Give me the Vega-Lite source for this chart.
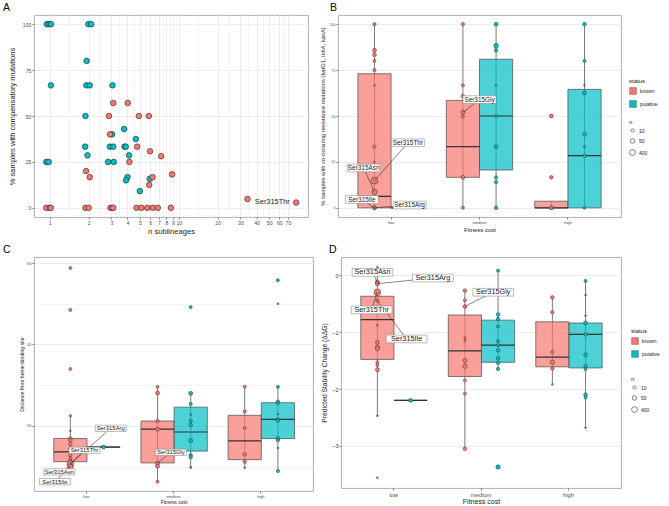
{
"$schema": "https://vega.github.io/schema/vega-lite/v6.json",
"padding": {"left": 2, "top": 2, "right": 2, "bottom": 0},
"background": "white",
"config": {
  "font": "Liberation Sans",
  "view": {"stroke": "#a6a6a6", "strokeWidth": 0.9},
  "axis": {"domain": false, "gridColor": "#ebebeb", "tickColor": "#4d4d4d", "tickWidth": 0.7, "tickSize": 2, "labelColor": "#4d4d4d", "titleColor": "#1a1a1a", "titleFontWeight": "normal", "labelPadding": 1},
  "axisX": {"labelAngle": 0},
  "title": {"fontWeight": "normal", "fontSize": 10.5, "anchor": "start", "frame": "group", "color": "#000000", "offset": 2},
  "legend": {"titleFontWeight": "normal", "titleFontSize": 6, "labelFontSize": 5, "titleColor": "#1a1a1a", "labelColor": "#1a1a1a", "titlePadding": 3, "rowPadding": 3, "labelOffset": 3}
},
"datasets": {
  "Apts": [
    {"status":"putative","ns":0.95,"pct":100},{"status":"putative","ns":0.99,"pct":100},{"status":"putative","ns":1.02,"pct":100},
    {"status":"putative","ns":1.99,"pct":100},{"status":"putative","ns":2.09,"pct":100},{"status":"putative","ns":1.93,"pct":80},
    {"status":"putative","ns":1.02,"pct":66.7},{"status":"putative","ns":1.92,"pct":66.7},{"status":"putative","ns":2.04,"pct":66.7},
    {"status":"putative","ns":3.06,"pct":66.7},{"status":"putative","ns":1.89,"pct":50},{"status":"putative","ns":3.77,"pct":42.9},
    {"status":"putative","ns":4.64,"pct":37.5},{"status":"putative","ns":1.88,"pct":33.3},{"status":"putative","ns":2.92,"pct":33.3},
    {"status":"putative","ns":3.1,"pct":33.3},{"status":"putative","ns":3.8,"pct":33.3},{"status":"putative","ns":3.88,"pct":33.3},
    {"status":"putative","ns":1.96,"pct":28.6},{"status":"putative","ns":4.12,"pct":28.6},{"status":"putative","ns":0.94,"pct":25},
    {"status":"putative","ns":0.98,"pct":25},{"status":"putative","ns":2.83,"pct":25},{"status":"putative","ns":3.13,"pct":25},
    {"status":"putative","ns":4.0,"pct":16.7},{"status":"putative","ns":3.9,"pct":15},{"status":"putative","ns":5.95,"pct":15.8},
    {"status":"putative","ns":4.98,"pct":9.1},{"status":"putative","ns":3.04,"pct":40},
    {"status":"known","ns":0.94,"pct":0},{"status":"known","ns":1.0,"pct":0},{"status":"known","ns":1.02,"pct":0},
    {"status":"known","ns":1.89,"pct":0},{"status":"known","ns":2.0,"pct":0},{"status":"known","ns":2.95,"pct":0},
    {"status":"known","ns":3.07,"pct":0},{"status":"known","ns":3.1,"pct":0},{"status":"known","ns":4.7,"pct":0},
    {"status":"known","ns":5.13,"pct":0},{"status":"known","ns":5.7,"pct":0},{"status":"known","ns":6.28,"pct":0},
    {"status":"known","ns":6.87,"pct":0},{"status":"known","ns":8.67,"pct":0},
    {"status":"known","ns":3.1,"pct":57.1},{"status":"known","ns":4.02,"pct":57.1},{"status":"known","ns":2.87,"pct":50},
    {"status":"known","ns":4.9,"pct":50},{"status":"known","ns":5.85,"pct":50},{"status":"known","ns":2.93,"pct":40},
    {"status":"known","ns":4.75,"pct":33.3},{"status":"known","ns":5.98,"pct":30.8},{"status":"known","ns":7.29,"pct":28.1},
    {"status":"known","ns":4.14,"pct":25},{"status":"known","ns":1.91,"pct":20},{"status":"known","ns":2.04,"pct":16.7},
    {"status":"known","ns":6.25,"pct":16.7},{"status":"known","ns":5.89,"pct":12.5},{"status":"known","ns":8.87,"pct":18.2},
    {"status":"known","ns":34,"pct":4.8},{"status":"known","ns":81,"pct":2.9}
  ],
  "Alab": [{"label":"Ser315Thr","lx":52.9,"ly":3.1}],
  "Bbox": [
    {"cost":"low","status":"known","lower":0,"q1":0,"median":6.2,"q3":73,"upper":100},
    {"cost":"low","status":"putative","lower":0,"q1":0,"median":0,"q3":0,"upper":0},
    {"cost":"medium","status":"known","lower":0,"q1":16.6,"median":33.3,"q3":58.5,"upper":100},
    {"cost":"medium","status":"putative","lower":0,"q1":20.6,"median":50,"q3":80.9,"upper":100},
    {"cost":"high","status":"known","lower":0,"q1":0,"median":0,"q3":3.6,"upper":3.6},
    {"cost":"high","status":"putative","lower":0,"q1":0,"median":28.4,"q3":64.5,"upper":100}
  ],
  "Bpts": [
    {"cost":"low","status":"known","v":100,"n":10},{"cost":"low","status":"known","v":85.8,"n":20},{"cost":"low","status":"known","v":83.4,"n":20},
    {"cost":"low","status":"known","v":80,"n":8},{"cost":"low","status":"known","v":75,"n":10},{"cost":"low","status":"known","v":66.7,"n":3},
    {"cost":"low","status":"known","v":33.3,"n":10},{"cost":"low","status":"known","v":25,"n":3},{"cost":"low","status":"known","v":14.8,"n":3000},
    {"cost":"low","status":"known","v":8.7,"n":200},{"cost":"low","status":"known","v":0,"n":20},{"cost":"low","status":"known","v":0,"n":15},
    {"cost":"low","status":"putative","v":0,"n":3},
    {"cost":"medium","status":"known","v":100,"n":10},{"cost":"medium","status":"known","v":66.7,"n":8},{"cost":"medium","status":"known","v":60.8,"n":15},
    {"cost":"medium","status":"known","v":52,"n":30},{"cost":"medium","status":"known","v":49.7,"n":8},{"cost":"medium","status":"known","v":16.6,"n":20},
    {"cost":"medium","status":"known","v":0,"n":8},
    {"cost":"medium","status":"putative","v":100,"n":20},{"cost":"medium","status":"putative","v":88.3,"n":60},{"cost":"medium","status":"putative","v":85.8,"n":15},
    {"cost":"medium","status":"putative","v":66.7,"n":3},{"cost":"medium","status":"putative","v":50,"n":8},{"cost":"medium","status":"putative","v":33.3,"n":20},
    {"cost":"medium","status":"putative","v":16.6,"n":10},{"cost":"medium","status":"putative","v":14,"n":10},{"cost":"medium","status":"putative","v":0,"n":15},
    {"cost":"high","status":"known","v":50,"n":20},{"cost":"high","status":"known","v":16.6,"n":15},{"cost":"high","status":"known","v":0,"n":20},
    {"cost":"high","status":"known","v":0,"n":15},
    {"cost":"high","status":"putative","v":100,"n":15},{"cost":"high","status":"putative","v":80,"n":8},{"cost":"high","status":"putative","v":66.7,"n":3},
    {"cost":"high","status":"putative","v":62.5,"n":20},{"cost":"high","status":"putative","v":40,"n":15},{"cost":"high","status":"putative","v":33.3,"n":4},
    {"cost":"high","status":"putative","v":28.4,"n":15},{"cost":"high","status":"putative","v":0,"n":8}
  ],
  "Blab": [
    {"label":"Ser315Thr","lx":1.19,"ly":35.4,"px":0.8125,"py":14.8},
    {"label":"Ser315Asn","lx":0.69,"ly":21.7,"px":0.8125,"py":8.7},
    {"label":"Ser315Ile","lx":0.67,"ly":4.5,"px":0.8125,"py":0},
    {"label":"Ser315Arg","lx":1.21,"ly":1.5,"px":0.8125,"py":0},
    {"label":"Ser315Gly","lx":2.0,"ly":58.9,"px":1.8125,"py":52}
  ],
  "Cbox": [
    {"cost":"low","status":"known","lower":9.9,"q1":11.2,"median":13.6,"q3":16.9,"upper":22.5},
    {"cost":"low","status":"putative","lower":14.8,"q1":14.8,"median":14.8,"q3":14.8,"upper":14.8},
    {"cost":"medium","status":"known","lower":6.3,"q1":10.9,"median":19.2,"q3":21.2,"upper":29.6},
    {"cost":"medium","status":"putative","lower":9.8,"q1":13.8,"median":18.5,"q3":24.6,"upper":28},
    {"cost":"high","status":"known","lower":9.7,"q1":11.7,"median":16.3,"q3":22.6,"upper":29.6},
    {"cost":"high","status":"putative","lower":8.9,"q1":16.9,"median":21.6,"q3":25.7,"upper":29.6}
  ],
  "Cpts": [
    {"cost":"low","status":"known","v":58.8,"n":8},{"cost":"low","status":"known","v":48.5,"n":8},{"cost":"low","status":"known","v":34,"n":8},
    {"cost":"low","status":"known","v":22.5,"n":5},{"cost":"low","status":"known","v":18.8,"n":3},{"cost":"low","status":"known","v":16.9,"n":15},
    {"cost":"low","status":"known","v":16.5,"n":15},{"cost":"low","status":"known","v":15.5,"n":15},{"cost":"low","status":"known","v":14.4,"n":10},
    {"cost":"low","status":"known","v":12.8,"n":10},{"cost":"low","status":"known","v":12,"n":10},{"cost":"low","status":"known","v":11.4,"n":10},
    {"cost":"low","status":"known","v":10.6,"n":3000},{"cost":"low","status":"known","v":9.9,"n":200},
    {"cost":"low","status":"putative","v":14.8,"n":20},
    {"cost":"medium","status":"known","v":29.6,"n":8},{"cost":"medium","status":"known","v":28.1,"n":25},{"cost":"medium","status":"known","v":21.2,"n":10},
    {"cost":"medium","status":"known","v":19.2,"n":25},{"cost":"medium","status":"known","v":10.8,"n":25},{"cost":"medium","status":"known","v":10.1,"n":25},
    {"cost":"medium","status":"known","v":6.3,"n":8},
    {"cost":"medium","status":"putative","v":49.2,"n":8},{"cost":"medium","status":"putative","v":28,"n":25},{"cost":"medium","status":"putative","v":25.4,"n":10},
    {"cost":"medium","status":"putative","v":22.8,"n":3},{"cost":"medium","status":"putative","v":21.2,"n":12},{"cost":"medium","status":"putative","v":20.2,"n":12},
    {"cost":"medium","status":"putative","v":16.4,"n":25},{"cost":"medium","status":"putative","v":12.8,"n":12},{"cost":"medium","status":"putative","v":12.3,"n":12},
    {"cost":"medium","status":"putative","v":9.8,"n":4},
    {"cost":"high","status":"known","v":29.6,"n":8},{"cost":"high","status":"known","v":23.6,"n":8},{"cost":"high","status":"known","v":19.5,"n":6},
    {"cost":"high","status":"known","v":13,"n":15},{"cost":"high","status":"known","v":11.2,"n":15},{"cost":"high","status":"known","v":9.7,"n":3},
    {"cost":"high","status":"putative","v":55.8,"n":8},{"cost":"high","status":"putative","v":50,"n":3},{"cost":"high","status":"putative","v":29.6,"n":8},
    {"cost":"high","status":"putative","v":25.9,"n":20},{"cost":"high","status":"putative","v":25.6,"n":10},{"cost":"high","status":"putative","v":22.9,"n":3},
    {"cost":"high","status":"putative","v":21.5,"n":20},{"cost":"high","status":"putative","v":21.3,"n":10},{"cost":"high","status":"putative","v":16.9,"n":20},
    {"cost":"high","status":"putative","v":16.5,"n":10},{"cost":"high","status":"putative","v":14.6,"n":3},{"cost":"high","status":"putative","v":8.9,"n":10}
  ],
  "Clab": [
    {"label":"Ser315Arg","lx":1.28,"ly":19.4,"px":0.8125,"py":10.6},
    {"label":"Ser315Thr","lx":0.98,"ly":14.0,"px":0.8125,"py":10.6},
    {"label":"Ser315Asn","lx":0.69,"ly":8.7,"px":0.8125,"py":9.9},
    {"label":"Ser315Ile","lx":0.64,"ly":6.3,"px":0.8125,"py":9.9},
    {"label":"Ser315Gly","lx":1.97,"ly":13.5,"px":1.8125,"py":10.8}
  ],
  "Dbox": [
    {"cost":"low","status":"known","lower":-2.48,"q1":-1.48,"median":-0.78,"q3":-0.37,"upper":0.14},
    {"cost":"low","status":"putative","lower":-2.2,"q1":-2.2,"median":-2.2,"q3":-2.2,"upper":-2.2},
    {"cost":"medium","status":"known","lower":-3.05,"q1":-1.78,"median":-1.33,"q3":-0.70,"upper":-0.27},
    {"cost":"medium","status":"putative","lower":-1.65,"q1":-1.53,"median":-1.23,"q3":-0.79,"upper":0.08},
    {"cost":"high","status":"known","lower":-1.92,"q1":-1.61,"median":-1.44,"q3":-0.82,"upper":-0.39},
    {"cost":"high","status":"putative","lower":-2.68,"q1":-1.63,"median":-1.04,"q3":-0.84,"upper":-0.10}
  ],
  "Dpts": [
    {"cost":"low","status":"known","v":0.14,"n":3},{"cost":"low","status":"known","v":-0.12,"n":30},{"cost":"low","status":"known","v":-0.15,"n":30},
    {"cost":"low","status":"known","v":-0.30,"n":3000},{"cost":"low","status":"known","v":-0.44,"n":10},{"cost":"low","status":"known","v":-0.88,"n":3},
    {"cost":"low","status":"known","v":-1.18,"n":20},{"cost":"low","status":"known","v":-1.26,"n":30},{"cost":"low","status":"known","v":-1.29,"n":30},
    {"cost":"low","status":"known","v":-1.53,"n":8},{"cost":"low","status":"known","v":-1.58,"n":8},{"cost":"low","status":"known","v":-1.66,"n":25},
    {"cost":"low","status":"known","v":-2.47,"n":3},{"cost":"low","status":"known","v":-3.56,"n":3},
    {"cost":"low","status":"putative","v":-2.2,"n":20},
    {"cost":"medium","status":"known","v":-0.27,"n":15},{"cost":"medium","status":"known","v":-0.44,"n":8},{"cost":"medium","status":"known","v":-0.55,"n":20},
    {"cost":"medium","status":"known","v":-1.10,"n":4},{"cost":"medium","status":"known","v":-1.15,"n":4},{"cost":"medium","status":"known","v":-1.50,"n":25},
    {"cost":"medium","status":"known","v":-1.60,"n":40},{"cost":"medium","status":"known","v":-1.85,"n":8},{"cost":"medium","status":"known","v":-2.08,"n":8},
    {"cost":"medium","status":"known","v":-3.05,"n":15},
    {"cost":"medium","status":"putative","v":0.08,"n":8},{"cost":"medium","status":"putative","v":-0.69,"n":15},{"cost":"medium","status":"putative","v":-0.77,"n":12},
    {"cost":"medium","status":"putative","v":-0.90,"n":8},{"cost":"medium","status":"putative","v":-1.16,"n":8},{"cost":"medium","status":"putative","v":-1.23,"n":8},
    {"cost":"medium","status":"putative","v":-1.32,"n":15},{"cost":"medium","status":"putative","v":-1.46,"n":15},{"cost":"medium","status":"putative","v":-1.54,"n":15},
    {"cost":"medium","status":"putative","v":-1.65,"n":12},{"cost":"medium","status":"putative","v":-3.37,"n":40},
    {"cost":"high","status":"known","v":-0.39,"n":15},{"cost":"high","status":"known","v":-0.65,"n":10},{"cost":"high","status":"known","v":-1.35,"n":8},
    {"cost":"high","status":"known","v":-1.53,"n":40},{"cost":"high","status":"known","v":-1.64,"n":12},{"cost":"high","status":"known","v":-1.92,"n":3},
    {"cost":"high","status":"putative","v":-0.10,"n":8},{"cost":"high","status":"putative","v":-0.35,"n":3},{"cost":"high","status":"putative","v":-0.71,"n":3},
    {"cost":"high","status":"putative","v":-0.84,"n":20},{"cost":"high","status":"putative","v":-1.04,"n":15},{"cost":"high","status":"putative","v":-1.40,"n":20},
    {"cost":"high","status":"putative","v":-1.60,"n":15},{"cost":"high","status":"putative","v":-1.65,"n":8},{"cost":"high","status":"putative","v":-2.10,"n":20},
    {"cost":"high","status":"putative","v":-2.15,"n":8},{"cost":"high","status":"putative","v":-2.68,"n":3}
  ],
  "Dlab": [
    {"label":"Ser315Asn","lx":0.76,"ly":0.05,"px":0.8125,"py":-0.12},
    {"label":"Ser315Arg","lx":1.45,"ly":-0.05,"px":0.8125,"py":-0.15},
    {"label":"Ser315Thr","lx":0.75,"ly":-0.61,"px":0.8125,"py":-0.30},
    {"label":"Ser315Ile","lx":1.15,"ly":-1.12,"px":0.8125,"py":-0.44},
    {"label":"Ser315Gly","lx":2.14,"ly":-0.30,"px":1.8125,"py":-0.55}
  ]
},
"resolve": {"scale": {"fill": "independent", "size": "independent"}, "legend": {"fill": "independent", "size": "independent"}},
"spacing": 8,
"vconcat": [
 {
  "spacing": 10,
  "resolve": {"scale": {"fill": "independent", "size": "independent"}, "legend": {"fill": "independent", "size": "independent"}},
  "hconcat": [
   {
    "width": 274, "height": 202,
    "title": {"text": "A", "dx": -31},
    "layer": [
     {"data": {"name": "Apts"},
      "mark": {"type": "point", "filled": true, "opacity": 1, "size": 32, "stroke": "#262626", "strokeWidth": 0.6},
      "encoding": {
        "x": {"field": "ns", "type": "quantitative", "scale": {"type": "log", "domain": [0.755, 100], "nice": false},
              "axis": {"title": "n sublineages", "values": [1,1.41,2,2.45,3,3.46,4,4.47,5,5.48,6,6.48,7,7.48,8,8.49,9,9.49,10,14.1,20,24.5,30,34.6,40,44.7,50,54.8,60,64.8,70],
                       "labelExpr": "datum.value % 1 == 0 ? ('' + datum.value) : ''",
                       "tickOpacity": {"condition": {"test": "datum.value % 1 != 0", "value": 0}, "value": 1},
                       "gridWidth": {"condition": {"test": "datum.value % 1 != 0", "value": 0.5}, "value": 0.9},
                       "labelFontSize": 5.2, "titleFontSize": 7.6, "titlePadding": 2}},
        "y": {"field": "pct", "type": "quantitative", "scale": {"domain": [-5, 105], "nice": false, "zero": false},
              "axis": {"title": "% samples with compensatory mutations", "values": [0,12.5,25,37.5,50,62.5,75,87.5,100],
                       "labelExpr": "datum.value % 25 == 0 ? datum.label : ''",
                       "tickOpacity": {"condition": {"test": "datum.value % 25 != 0", "value": 0}, "value": 1},
                       "gridWidth": {"condition": {"test": "datum.value % 25 != 0", "value": 0.5}, "value": 0.9},
                       "labelFontSize": 5.2, "titleFontSize": 7.6, "titlePadding": 5.5}},
        "fill": {"field": "status", "type": "nominal", "scale": {"domain": ["known","putative"], "range": ["#F8766D","#00BFC4"]}, "legend": null}
      }},
     {"data": {"name": "Alab"},
      "mark": {"type": "text", "fontSize": 7.4, "color": "#1a1a1a"},
      "encoding": {
        "x": {"field": "lx", "type": "quantitative", "scale": {"type": "log", "domain": [0.755, 100], "nice": false}},
        "y": {"field": "ly", "type": "quantitative", "scale": {"domain": [-5, 105], "nice": false, "zero": false}},
        "text": {"field": "label"}
      }}
    ]
   },
   {
    "width": 283, "height": 202,
    "title": {"text": "B", "dx": -8},
    "resolve": {"scale": {"x": "independent"}},
    "layer": [
     {
      "encoding": {
        "x": {"field": "cost", "type": "nominal", "scale": {"domain": ["low","medium","high"], "paddingInner": 0, "paddingOuter": 0.1},
              "axis": {"title": "Fitness cost", "labelFontSize": 4, "titleFontSize": 6, "titlePadding": 2.3}},
        "xOffset": {"field": "status", "type": "nominal", "scale": {"domain": ["known","putative"], "paddingInner": 0, "paddingOuter": 0.333}}
      },
      "layer": [
       {"data": {"name": "Bbox"}, "mark": {"type": "rule", "stroke": "#595959", "strokeWidth": 0.8},
        "encoding": {"y": {"field": "lower", "type": "quantitative", "scale": {"domain": [-5, 105], "nice": false, "zero": false},
                           "axis": {"title": "% samples with co-occuring resistance mutations (katG1, inhA, kasA)", "values": [0,12.5,25,37.5,50,62.5,75,87.5,100],
                                    "labelExpr": "datum.value % 25 == 0 ? datum.label : ''",
                                    "tickOpacity": {"condition": {"test": "datum.value % 25 != 0", "value": 0}, "value": 1},
                                    "gridWidth": {"condition": {"test": "datum.value % 25 != 0", "value": 0.5}, "value": 0.9},
                                    "labelFontSize": 3.5, "titleFontSize": 5.8, "titlePadding": 3.4}},
                     "y2": {"field": "upper"}}},
       {"data": {"name": "Bbox"}, "mark": {"type": "bar", "fillOpacity": 0.7, "stroke": "#595959", "strokeWidth": 0.8},
        "encoding": {"y": {"field": "q1", "type": "quantitative"}, "y2": {"field": "q3"},
                     "fill": {"field": "status", "type": "nominal", "scale": {"domain": ["known","putative"], "range": ["#F8766D","#00BFC4"]},
                              "legend": {"orient": "none", "legendX": 291, "legendY": 63, "title": "status", "symbolType": "square", "symbolSize": 45, "symbolStrokeColor": "#555555", "symbolStrokeWidth": 0.5}}}},
       {"data": {"name": "Bbox"}, "mark": {"type": "bar", "fillOpacity": 0, "stroke": "#333333", "strokeWidth": 1.2},
        "encoding": {"y": {"field": "median", "type": "quantitative"}, "y2": {"field": "median"}}},
       {"data": {"name": "Bpts"}, "mark": {"type": "point", "filled": true, "opacity": 1, "stroke": "#333333", "strokeWidth": 0.5},
        "encoding": {"y": {"field": "v", "type": "quantitative"},
                     "fill": {"field": "status", "type": "nominal", "scale": {"domain": ["known","putative"], "range": ["#F8766D","#00BFC4"]},
                              "legend": {"orient": "none", "legendX": 291, "legendY": 63, "title": "status", "symbolType": "square", "symbolSize": 45, "symbolStrokeColor": "#555555", "symbolStrokeWidth": 0.5}},
                     "size": {"field": "n", "type": "quantitative", "scale": {"type": "log", "domain": [2, 2000], "range": [1, 43]},
                              "legend": {"orient": "none", "legendX": 291, "legendY": 104, "title": "n", "values": [10, 50, 400], "symbolType": "circle", "symbolFillColor": "white", "symbolStrokeColor": "#333333", "symbolStrokeWidth": 0.6}}}}
      ]
     },
     {
      "data": {"name": "Blab"},
      "encoding": {
        "x": {"field": "lx", "type": "quantitative", "scale": {"domain": [0.4, 3.6], "nice": false, "zero": false}, "axis": null},
        "y": {"field": "ly", "type": "quantitative", "scale": {"domain": [-5, 105], "nice": false, "zero": false}}
      },
      "layer": [
       {"mark": {"type": "rule", "stroke": "#333333", "strokeWidth": 0.6},
        "encoding": {"x": {"field": "px", "type": "quantitative", "scale": {"domain": [0.4, 3.6], "nice": false, "zero": false}, "axis": null}, "x2": {"field": "lx"},
                     "y": {"field": "py", "type": "quantitative", "scale": {"domain": [-5, 105], "nice": false, "zero": false}}, "y2": {"field": "ly"}}},
       {"mark": {"type": "point", "shape": "M-1,-0.233H1V0.233H-1Z", "size": 1089, "filled": true, "fill": "white", "stroke": "#8c8c8c", "strokeWidth": 0.6, "opacity": 1}},
       {"mark": {"type": "text", "fontSize": 6.4, "color": "#1a1a1a"}, "encoding": {"text": {"field": "label"}}}
      ]
     }
    ]
   }
  ]
 },
 {
  "spacing": 6,
  "resolve": {"scale": {"fill": "independent", "size": "independent"}, "legend": {"fill": "independent", "size": "independent"}},
  "hconcat": [
   {
    "width": 279, "height": 234,
    "title": {"text": "C", "dx": -31},
    "resolve": {"scale": {"x": "independent"}},
    "layer": [
     {
      "encoding": {
        "x": {"field": "cost", "type": "nominal", "scale": {"domain": ["low","medium","high"], "paddingInner": 0, "paddingOuter": 0.1},
              "axis": {"title": "Fitness cost", "labelFontSize": 4, "titleFontSize": 5, "titlePadding": 1.2}},
        "xOffset": {"field": "status", "type": "nominal", "scale": {"domain": ["known","putative"], "paddingInner": 0, "paddingOuter": 0.333}}
      },
      "layer": [
       {"data": {"name": "Cbox"}, "mark": {"type": "rule", "stroke": "#595959", "strokeWidth": 0.8},
        "encoding": {"y": {"field": "lower", "type": "quantitative", "scale": {"domain": [4, 61.5], "nice": false, "zero": false},
                           "axis": {"title": "Distance from heme-binding site", "values": [10,20,30,40,50,60],
                                    "labelExpr": "datum.value % 20 == 0 ? datum.label : ''",
                                    "tickOpacity": {"condition": {"test": "datum.value % 20 != 0", "value": 0}, "value": 1},
                                    "gridWidth": {"condition": {"test": "datum.value % 20 != 0", "value": 0.5}, "value": 0.9},
                                    "labelFontSize": 4, "titleFontSize": 5.2, "titlePadding": 2.3}},
                     "y2": {"field": "upper"}}},
       {"data": {"name": "Cbox"}, "mark": {"type": "bar", "fillOpacity": 0.7, "stroke": "#595959", "strokeWidth": 0.8},
        "encoding": {"y": {"field": "q1", "type": "quantitative"}, "y2": {"field": "q3"},
                     "fill": {"field": "status", "type": "nominal", "scale": {"domain": ["known","putative"], "range": ["#F8766D","#00BFC4"]}, "legend": null}}},
       {"data": {"name": "Cbox"}, "mark": {"type": "bar", "fillOpacity": 0, "stroke": "#333333", "strokeWidth": 1.2},
        "encoding": {"y": {"field": "median", "type": "quantitative"}, "y2": {"field": "median"}}},
       {"data": {"name": "Cpts"}, "mark": {"type": "point", "filled": true, "opacity": 1, "stroke": "#333333", "strokeWidth": 0.5},
        "encoding": {"y": {"field": "v", "type": "quantitative"},
                     "fill": {"field": "status", "type": "nominal", "scale": {"domain": ["known","putative"], "range": ["#F8766D","#00BFC4"]}, "legend": null},
                     "size": {"field": "n", "type": "quantitative", "scale": {"type": "log", "domain": [2, 2000], "range": [1, 43]}, "legend": null}}}
      ]
     },
     {
      "data": {"name": "Clab"},
      "encoding": {
        "x": {"field": "lx", "type": "quantitative", "scale": {"domain": [0.4, 3.6], "nice": false, "zero": false}, "axis": null},
        "y": {"field": "ly", "type": "quantitative", "scale": {"domain": [4, 61.5], "nice": false, "zero": false}}
      },
      "layer": [
       {"mark": {"type": "rule", "stroke": "#333333", "strokeWidth": 0.6},
        "encoding": {"x": {"field": "px", "type": "quantitative", "scale": {"domain": [0.4, 3.6], "nice": false, "zero": false}, "axis": null}, "x2": {"field": "lx"},
                     "y": {"field": "py", "type": "quantitative", "scale": {"domain": [4, 61.5], "nice": false, "zero": false}}, "y2": {"field": "ly"}}},
       {"mark": {"type": "point", "shape": "M-1,-0.203H1V0.203H-1Z", "size": 961, "filled": true, "fill": "white", "stroke": "#8c8c8c", "strokeWidth": 0.6, "opacity": 1}},
       {"mark": {"type": "text", "fontSize": 5.9, "color": "#1a1a1a"}, "encoding": {"text": {"field": "label"}}}
      ]
     }
    ]
   },
   {
    "width": 280, "height": 231,
    "title": {"text": "D", "dx": -12},
    "resolve": {"scale": {"x": "independent"}},
    "layer": [
     {
      "encoding": {
        "x": {"field": "cost", "type": "nominal", "scale": {"domain": ["low","medium","high"], "paddingInner": 0, "paddingOuter": 0.1},
              "axis": {"title": "Fitness cost", "labelFontSize": 5.8, "titleFontSize": 7, "titlePadding": 1}},
        "xOffset": {"field": "status", "type": "nominal", "scale": {"domain": ["known","putative"], "paddingInner": 0, "paddingOuter": 0.333}},
        "y": {"type": "quantitative", "scale": {"domain": [-3.74, 0.32], "nice": false, "zero": false},
              "axis": {"title": "Predicted Stability Change (ΔΔG)", "values": [-3, -2, -1, 0], "labelFontSize": 5.5, "labelColor": "#333333", "titleFontSize": 6.7, "titlePadding": 4.4, "gridWidth": 0.9}}
      },
      "layer": [
       {"data": {"name": "Dbox"}, "mark": {"type": "rule", "stroke": "#595959", "strokeWidth": 0.8},
        "encoding": {"y": {"field": "lower", "type": "quantitative", "scale": {"domain": [-3.74, 0.32], "nice": false, "zero": false},
                           "axis": {"title": "Predicted Stability Change (ΔΔG)", "values": [-3, -2, -1, 0], "labelFontSize": 5.5, "labelColor": "#333333", "titleFontSize": 6.7, "titlePadding": 4.4, "gridWidth": 0.9}},
                     "y2": {"field": "upper"}}},
       {"data": {"name": "Dbox"}, "mark": {"type": "bar", "fillOpacity": 0.7, "stroke": "#595959", "strokeWidth": 0.8},
        "encoding": {"y": {"field": "q1", "type": "quantitative", "scale": {"domain": [-3.74, 0.32], "nice": false, "zero": false},
                           "axis": {"title": "Predicted Stability Change (ΔΔG)", "values": [-3, -2, -1, 0], "labelFontSize": 5.5, "labelColor": "#333333", "titleFontSize": 6.7, "titlePadding": 4.4, "gridWidth": 0.9}},
                     "y2": {"field": "q3"},
                     "fill": {"field": "status", "type": "nominal", "scale": {"domain": ["known","putative"], "range": ["#F8766D","#00BFC4"]},
                              "legend": {"orient": "none", "legendX": 290, "legendY": 71, "title": "status", "symbolType": "square", "symbolSize": 45, "symbolStrokeColor": "#555555", "symbolStrokeWidth": 0.5}}}},
       {"data": {"name": "Dbox"}, "mark": {"type": "bar", "fillOpacity": 0, "stroke": "#333333", "strokeWidth": 1.2},
        "encoding": {"y": {"field": "median", "type": "quantitative", "scale": {"domain": [-3.74, 0.32], "nice": false, "zero": false},
                           "axis": {"title": "Predicted Stability Change (ΔΔG)", "values": [-3, -2, -1, 0], "labelFontSize": 5.5, "labelColor": "#333333", "titleFontSize": 6.7, "titlePadding": 4.4, "gridWidth": 0.9}},
                     "y2": {"field": "median"}}},
       {"data": {"name": "Dpts"}, "mark": {"type": "point", "filled": true, "opacity": 1, "stroke": "#333333", "strokeWidth": 0.5},
        "encoding": {"y": {"field": "v", "type": "quantitative", "scale": {"domain": [-3.74, 0.32], "nice": false, "zero": false},
                           "axis": {"title": "Predicted Stability Change (ΔΔG)", "values": [-3, -2, -1, 0], "labelFontSize": 5.5, "labelColor": "#333333", "titleFontSize": 6.7, "titlePadding": 4.4, "gridWidth": 0.9}},
                     "fill": {"field": "status", "type": "nominal", "scale": {"domain": ["known","putative"], "range": ["#F8766D","#00BFC4"]},
                              "legend": {"orient": "none", "legendX": 290, "legendY": 71, "title": "status", "symbolType": "square", "symbolSize": 45, "symbolStrokeColor": "#555555", "symbolStrokeWidth": 0.5}},
                     "size": {"field": "n", "type": "quantitative", "scale": {"type": "log", "domain": [2, 2000], "range": [1, 43]},
                              "legend": {"orient": "none", "legendX": 290, "legendY": 119, "title": "n", "values": [10, 50, 400], "symbolType": "circle", "symbolFillColor": "white", "symbolStrokeColor": "#333333", "symbolStrokeWidth": 0.6}}}}
      ]
     },
     {
      "data": {"name": "Dlab"},
      "encoding": {
        "x": {"field": "lx", "type": "quantitative", "scale": {"domain": [0.4, 3.6], "nice": false, "zero": false}, "axis": null},
        "y": {"field": "ly", "type": "quantitative", "scale": {"domain": [-3.74, 0.32], "nice": false, "zero": false},
              "axis": {"title": "Predicted Stability Change (ΔΔG)", "values": [-3, -2, -1, 0], "labelFontSize": 5.5, "labelColor": "#333333", "titleFontSize": 6.7, "titlePadding": 4.4, "gridWidth": 0.9}}
      },
      "layer": [
       {"mark": {"type": "rule", "stroke": "#333333", "strokeWidth": 0.6},
        "encoding": {"x": {"field": "px", "type": "quantitative", "scale": {"domain": [0.4, 3.6], "nice": false, "zero": false}, "axis": null}, "x2": {"field": "lx"},
                     "y": {"field": "py", "type": "quantitative", "scale": {"domain": [-3.74, 0.32], "nice": false, "zero": false},
                           "axis": {"title": "Predicted Stability Change (ΔΔG)", "values": [-3, -2, -1, 0], "labelFontSize": 5.5, "labelColor": "#333333", "titleFontSize": 6.7, "titlePadding": 4.4, "gridWidth": 0.9}},
                     "y2": {"field": "ly"}}},
       {"mark": {"type": "point", "shape": "M-1,-0.19H1V0.19H-1Z", "size": 1656, "filled": true, "fill": "white", "stroke": "#8c8c8c", "strokeWidth": 0.6, "opacity": 1}},
       {"mark": {"type": "text", "fontSize": 7.3, "color": "#1a1a1a"}, "encoding": {"text": {"field": "label"}}}
      ]
     }
    ]
   }
  ]
 }
]
}
